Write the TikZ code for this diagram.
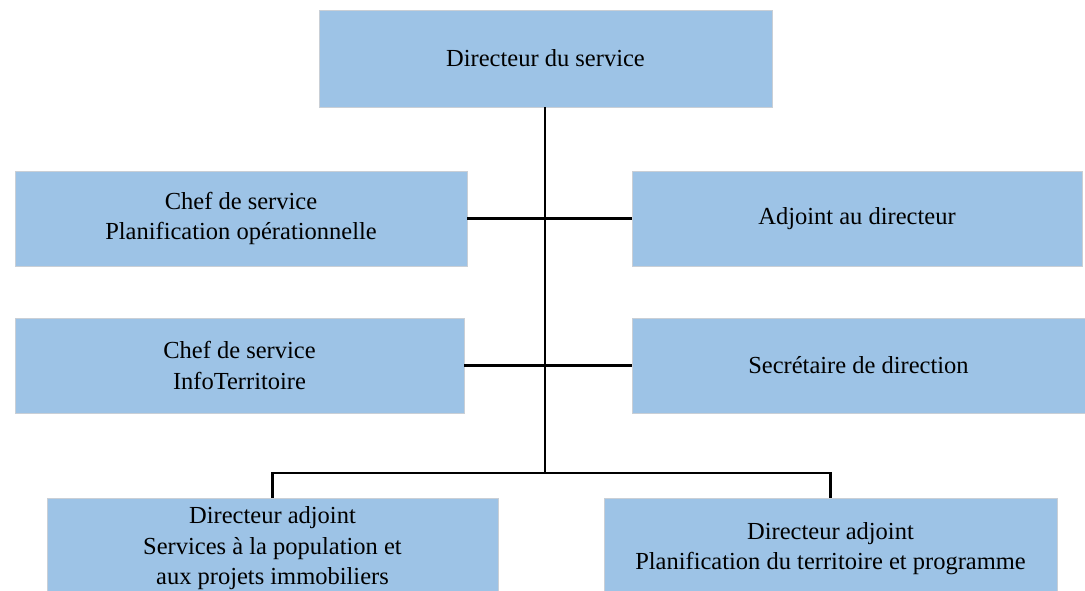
\documentclass[tikz,border=0pt]{standalone}
\usepackage{fontspec}
\setmainfont{Liberation Serif}
\definecolor{boxfill}{HTML}{9DC3E6}
\definecolor{boxline}{HTML}{C9CFD6}
\begin{document}
\begin{tikzpicture}[x=1pt,y=1pt,
  orgbox/.style={rectangle, fill=boxfill, draw=boxline, line width=0.8pt,
    inner sep=0pt, minimum height=95pt, align=center,
    font=\fontsize{24.5}{30.5}\selectfont},
  link/.style={draw=black, line width=2.3pt}]
\clip (0,0) rectangle (1085,-590);
\useasboundingbox (0,0) rectangle (1085,-590);
\node[orgbox, minimum width=453pt, minimum height=97pt] (top) at (545.5,-58.5) {Directeur du service};
\node[orgbox, minimum width=452pt] (po) at (241,-218.5) {Chef de service\\Planification opérationnelle};
\node[orgbox, minimum width=450pt] (adj) at (857,-218.5) {Adjoint au directeur};
\node[orgbox, minimum width=449pt] (it) at (239.5,-365.5) {Chef de service\\InfoTerritoire};
\node[orgbox, minimum width=453pt] (sec) at (858.5,-365.5) {Secrétaire de direction};
\node[orgbox, minimum width=451pt, minimum height=101pt] (bl) at (272.5,-548.5) {Directeur adjoint\\Services à la population et\\aux projets immobiliers};
\node[orgbox, minimum width=453pt, minimum height=101pt] (br) at (830.5,-548.5) {Directeur adjoint\\Planification du territoire et programme};
\coordinate (bus) at (545,-473);
\draw[link] (top.south -| bus) -- (bus);
\draw[link] (po.east) -- (adj.west);
\draw[link] (it.east) -- (sec.west);
\draw[link] (bl.north) |- (bus) -| (br.north);
\end{tikzpicture}
\end{document}
